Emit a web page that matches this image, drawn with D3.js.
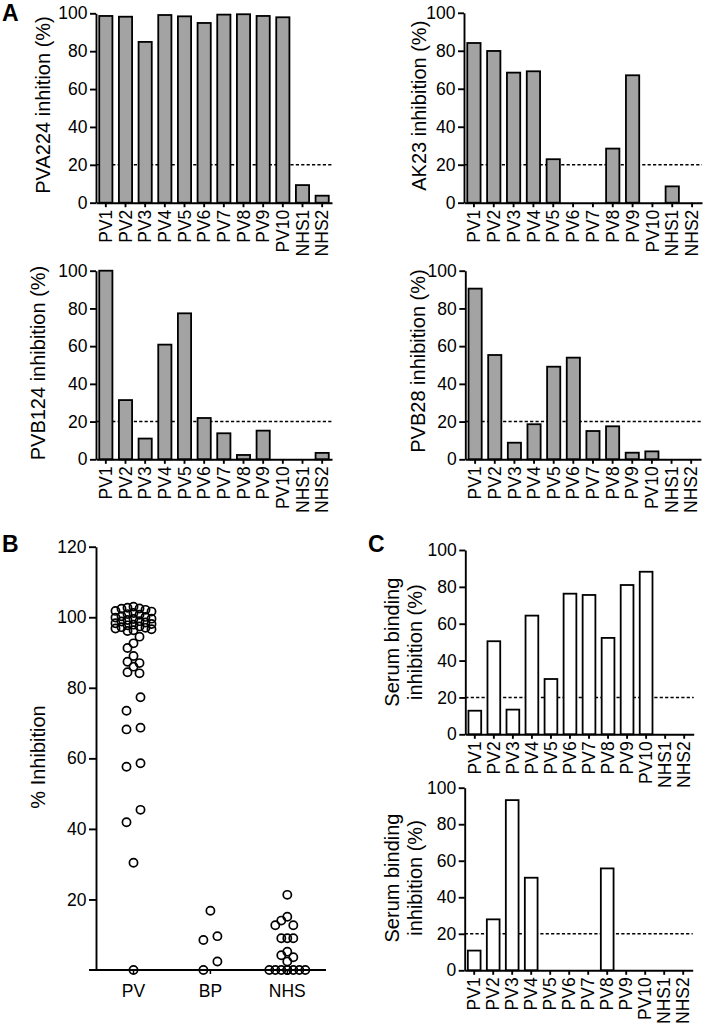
<!DOCTYPE html>
<html><head><meta charset="utf-8">
<script src="https://cdn.jsdelivr.net/npm/d3@7"></script>
<style>html,body{margin:0;padding:0;background:#fff;}svg{display:block;}</style>
</head><body>
<script>
// ---------- DATA ----------
const categoriesA = ["PV1","PV2","PV3","PV4","PV5","PV6","PV7","PV8","PV9","PV10","NHS1","NHS2"];
const pva224 = [98.6, 98.2, 84.9, 99.1, 98.4, 94.9, 99.3, 99.5, 98.6, 97.9, 9.3, 3.7];
const ak23   = [84.1, 79.9, 68.5, 69.2, 22.9, 0, 0, 28.5, 67.1, 0, 8.6, 0];
const pvb124 = [100, 31.4, 11.0, 60.8, 77.4, 21.9, 13.8, 2.3, 15.2, 0, 0, 3.4];
const pvb28  = [90.5, 55.3, 8.8, 18.6, 49.1, 53.9, 15.0, 17.5, 3.5, 4.2, 0, 0];
const serumBindingTop    = [12.8, 50.5, 13.4, 64.4, 30.0, 76.3, 75.6, 52.3, 81.0, 88.2, 0, 0];
const serumBindingBottom = [10.8, 27.9, 93.2, 50.7, 0, 0, 0, 55.8, 0, 0, 0, 0];
const yTicksBar = [0, 20, 40, 60, 80, 100];
const cutoff = 20;

const groupsB = ["PV", "BP", "NHS"];
const pvInhibition = [0, 30.4, 41.9, 45.4, 57.6, 58.6, 68.2, 68.7, 73.5, 77.3,
  84.1, 84.4, 86.0, 87.0, 87.4, 89.0, 91.3, 92.6, 94.5,
  96.1, 96.3, 96.6, 96.8, 97.0, 97.2, 97.4, 97.7, 97.9, 98.1, 98.3, 98.5, 98.8, 98.9,
  99.2, 99.5, 99.6, 99.9, 100.1, 100.3, 100.7, 100.9, 101.2, 101.6, 101.8, 102.1,
  102.4, 102.5, 102.7, 103.0];
const bpInhibition = [16.8, 9.6, 8.5, 2.4, 0];
const nhsInhibition = [21.3, 15.1, 14.0, 12.7, 12.7, 9.0, 9.0, 9.0, 5.2, 4.2, 3.6, 2.4,
  0, 0, 0, 0, 0, 0, 0, 0];
const yTicksB = [20, 40, 60, 80, 100, 120];

// ---------- RENDER ----------
const FONT = "'Liberation Sans', Arial, Helvetica, sans-serif";
const W = 705, H = 1034;
const TICK_FS = 17.5, TITLE_FS = 20;
const svg = d3.select("body").append("svg").attr("width", W).attr("height", H)
  .style("font-family", FONT);
svg.append("rect").attr("width", W).attr("height", H).attr("fill", "#fff");

function styleAxis(g, sw) {
  g.selectAll("path.domain").attr("stroke", "#000").attr("stroke-width", sw);
  g.selectAll(".tick line").attr("stroke", "#000").attr("stroke-width", sw);
  g.selectAll("text").attr("fill", "#000").style("font-family", FONT);
}

function title(lines, bx, cy, lh) {
  const t = svg.append("text").attr("transform", `translate(${bx},${cy}) rotate(-90)`)
    .attr("text-anchor", "middle").attr("font-size", TITLE_FS).attr("fill", "#000");
  const n = lines.length;
  lines.forEach((l, i) => {
    t.append("tspan").attr("x", 0).attr("y", (i - (n - 1)) * lh).text(l);
  });
}

function barPanel(cfg, values, fill) {
  const x = d3.scaleBand().domain(categoriesA).range([cfg.x0, cfg.x1])
    .paddingInner(0.33).paddingOuter(0.165);
  const y = d3.scaleLinear().domain([0, 100]).range([cfg.yb, cfg.yt]);
  const g = svg.append("g");
  g.append("line").attr("x1", cfg.x0).attr("x2", cfg.x1)
    .attr("y1", y(cutoff)).attr("y2", y(cutoff))
    .attr("stroke", "#000").attr("stroke-width", 1.5).attr("stroke-dasharray", "3.2,2.2");
  g.append("g").selectAll("rect")
    .data(categoriesA.map((c, i) => ({ c, v: values[i] })).filter(d => d.v > 0))
    .join("rect")
    .attr("x", d => x(d.c)).attr("width", x.bandwidth())
    .attr("y", d => y(d.v)).attr("height", d => y(0) - y(d.v))
    .attr("fill", fill).attr("stroke", "#000").attr("stroke-width", 1.8);
  const ya = g.append("g").attr("transform", `translate(${cfg.x0},0)`)
    .call(d3.axisLeft(y).tickValues(yTicksBar).tickFormat(d3.format("d"))
      .tickSize(6).tickSizeOuter(0).tickPadding(2.5));
  ya.selectAll("text").attr("font-size", TICK_FS);
  styleAxis(ya, 1.9);
  const xa = g.append("g").attr("transform", `translate(0,${cfg.yb})`)
    .call(d3.axisBottom(x).tickSize(4.5).tickSizeOuter(0));
  xa.selectAll("text").attr("font-size", TICK_FS).attr("transform", "rotate(-90)")
    .attr("text-anchor", "end").attr("x", -7).attr("y", 0).attr("dy", "0.35em");
  styleAxis(xa, 1.9);
  title(cfg.title, cfg.tx, (cfg.yt + cfg.yb) / 2 + (cfg.tdy || 0), 23);
}

// Panel A
barPanel({ x0: 96, x1: 332, yt: 13.3, yb: 202.7, tx: 50, tdy: -3, title: ["PVA224 inhition (%)"] }, pva224, "#a3a3a3");
barPanel({ x0: 464, x1: 702, yt: 12.8, yb: 202.7, tx: 426, tdy: -2, title: ["AK23 inhibition (%)"] }, ak23, "#a3a3a3");
barPanel({ x0: 96, x1: 332, yt: 270.7, yb: 459.3, tx: 45, tdy: -2, title: ["PVB124 inhibition (%)"] }, pvb124, "#a3a3a3");
barPanel({ x0: 465.3, x1: 701, yt: 270.7, yb: 459.3, tx: 424.7, tdy: -4, title: ["PVB28 inhibition (%)"] }, pvb28, "#a3a3a3");
// Panel C
barPanel({ x0: 465.3, x1: 693.7, yt: 550, yb: 734.3, tx: 422, title: ["Serum binding", "inhibition (%)"] }, serumBindingTop, "#fff");
barPanel({ x0: 464.7, x1: 692.7, yt: 787.7, yb: 970.3, tx: 421.5, tdy: -1, title: ["Serum binding", "inhibition (%)"] }, serumBindingBottom, "#fff");

// Panel B scatter
(function () {
  const y = d3.scaleLinear().domain([0, 120]).range([970, 546.7]);
  const x = d3.scalePoint().domain(groupsB).range([133.5, 287.3]);
  const gB = svg.append("g");
  const ya = gB.append("g").attr("transform", "translate(96,0)")
    .call(d3.axisLeft(y).tickValues(yTicksB).tickSize(7).tickSizeOuter(0).tickPadding(2.5));
  ya.selectAll("text").attr("font-size", TICK_FS);
  styleAxis(ya, 1.9);
  gB.append("line").attr("x1", 89).attr("x2", 326).attr("y1", y(0)).attr("y2", y(0))
    .attr("stroke", "#000").attr("stroke-width", 1.9);
  const xt = gB.append("g").selectAll("g").data(groupsB).join("g")
    .attr("transform", d => `translate(${x(d)},${y(0)})`);
  xt.append("line").attr("y2", 4).attr("stroke", "#000").attr("stroke-width", 1.5);
  xt.append("text").attr("y", 26.5).attr("text-anchor", "middle").attr("font-size", TICK_FS)
    .attr("fill", "#000").text(d => d);

  const R = 4.1, SLOT = 6, DV = 9, CHAIN = 14;
  function swarm(vals) {
    const pts = vals.map(v => ({ v, y: y(v), dx: 0 })).sort((a, b) => a.v - b.v);
    const groups = [];
    let cur = [pts[0]];
    for (let i = 1; i < pts.length; i++) {
      if (cur[cur.length - 1].y - pts[i].y <= CHAIN) cur.push(pts[i]);
      else { groups.push(cur); cur = [pts[i]]; }
    }
    groups.push(cur);
    const slots = [0, -1, 1, -2, 2, -3, 3];
    groups.forEach(gr => {
      const n = gr.length;
      if (n <= 3) {
        const step = n === 2 ? 14 : 14.5;
        gr.forEach((p, i) => { p.dx = (i - (n - 1) / 2) * step; });
      } else {
        const placed = slots.map(() => []);
        gr.slice().sort((a, b) => b.v - a.v).forEach(p => {
          let best = -1, bestD = -1;
          for (let s = 0; s < slots.length; s++) {
            const d = placed[s].length ? d3.min(placed[s], q => Math.abs(q.y - p.y)) : Infinity;
            if (d >= DV) { best = s; break; }
            if (d > bestD) { bestD = d; best = s; }
          }
          placed[best].push(p);
          p.dx = slots[best] * SLOT;
        });
      }
    });
    return pts;
  }
  const sets = [pvInhibition, bpInhibition, nhsInhibition];
  groupsB.forEach((gname, gi) => {
    const pts = swarm(sets[gi]);
    gB.append("g").selectAll("circle").data(pts).join("circle")
      .attr("cx", d => x(gname) + d.dx).attr("cy", d => d.y).attr("r", R)
      .attr("fill", "none").attr("stroke", "#000").attr("stroke-width", 1.7);
  });
  title(["% Inhibition"], 45, 757, 23);
})();

// Panel letters
[["A", 2, 21], ["B", 2, 552], ["C", 368, 552]].forEach(([t, px, py]) => {
  svg.append("text").attr("x", px).attr("y", py).attr("font-size", 23)
    .attr("font-weight", "bold").attr("fill", "#000").text(t);
});
</script>
</body></html>
